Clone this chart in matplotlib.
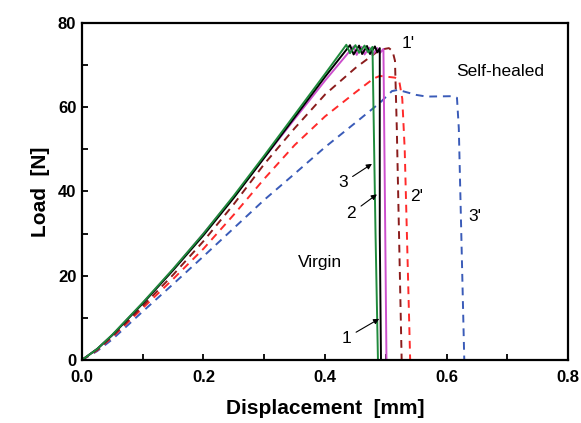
import numpy as np
import matplotlib
matplotlib.use("Agg")
import matplotlib.pyplot as plt

plt.rcParams['font.family'] = ['Liberation Sans', 'DejaVu Sans']

# virgin samples (solid lines), displacement [mm] / load [N]
x_v3 = [0, 0.025, 0.05, 0.10, 0.15, 0.20, 0.25, 0.30, 0.35, 0.40, 0.435, 0.441, 0.450,
        0.456, 0.465, 0.471, 0.478, 0.483, 0.487]
y_v3 = [0, 2.6, 6.0, 13.6, 21.6, 30.0, 39.0, 48.5, 58.2, 67.9, 74.8, 72.8, 74.7,
        72.9, 74.6, 73.0, 74.3, 30.0, 0]

x_v2 = [0, 0.025, 0.05, 0.10, 0.15, 0.20, 0.25, 0.30, 0.35, 0.40, 0.441, 0.447, 0.456,
        0.461, 0.469, 0.474, 0.482, 0.486, 0.490, 0.490, 0.492]
y_v2 = [0, 2.6, 5.9, 13.4, 21.3, 29.6, 38.5, 48.0, 57.6, 67.2, 74.7, 72.5, 74.6,
        72.6, 74.5, 72.6, 74.4, 73.0, 74.0, 30.0, 0]

x_v1 = [0, 0.025, 0.05, 0.10, 0.15, 0.20, 0.25, 0.30, 0.35, 0.40, 0.447, 0.452, 0.460,
        0.465, 0.473, 0.478, 0.486, 0.490, 0.496, 0.499, 0.501]
y_v1 = [0, 2.6, 5.9, 13.5, 21.5, 30.0, 38.8, 48.0, 57.2, 66.3, 74.4, 72.4, 74.3,
        72.5, 74.1, 72.4, 74.0, 72.8, 73.8, 30.0, 0]

# self-healed samples (dashed lines)
x_h1 = [0, 0.025, 0.05, 0.10, 0.15, 0.20, 0.25, 0.30, 0.35, 0.40, 0.45, 0.49, 0.505,
        0.511, 0.515, 0.518, 0.526]
y_h1 = [0, 2.4, 5.6, 12.8, 20.2, 28.2, 37.0, 46.5, 55.0, 63.0, 69.3, 73.6, 74.0,
        73.3, 71.0, 55.0, 0]

x_h2 = [0, 0.025, 0.05, 0.10, 0.15, 0.20, 0.25, 0.30, 0.35, 0.40, 0.45, 0.48, 0.49,
        0.515, 0.522, 0.527, 0.531, 0.540]
y_h2 = [0, 2.3, 5.4, 12.3, 19.2, 26.4, 34.5, 43.0, 51.0, 57.8, 63.5, 66.8, 67.4,
        67.0, 66.2, 62.0, 50.0, 0]

x_h3 = [0, 0.025, 0.05, 0.10, 0.15, 0.20, 0.25, 0.30, 0.35, 0.40, 0.45, 0.49, 0.51,
        0.52, 0.54, 0.55, 0.567, 0.61, 0.617, 0.620, 0.629]
y_h3 = [0, 2.1, 4.9, 11.5, 18.0, 24.6, 31.3, 38.0, 44.2, 50.5, 56.3, 61.0, 63.8,
        64.1, 63.3, 62.9, 62.5, 62.6, 62.2, 55.0, 0]

fig = plt.figure(figsize=(5.81, 4.23), dpi=100)
ax = fig.add_axes([0.141, 0.149, 0.837, 0.797])

ax.plot(x_h3, y_h3, '--', color='#3a5bb8', lw=1.4, dashes=(4, 3))
ax.plot(x_h2, y_h2, '--', color='#ff2a2a', lw=1.4, dashes=(4, 3))
ax.plot(x_h1, y_h1, '--', color='#8b1c1c', lw=1.4, dashes=(4, 3))
ax.plot(x_v1, y_v1, '-', color='#cc4fcc', lw=1.4)
ax.plot(x_v2, y_v2, '-', color='black', lw=1.4)
ax.plot(x_v3, y_v3, '-', color='#1f8a3c', lw=1.4)

ax.set_xlim(0, 0.8)
ax.set_ylim(0, 80)
ax.set_xticks(np.arange(0, 0.81, 0.2))
ax.set_xticks(np.arange(0.1, 0.8, 0.2), minor=True)
ax.set_yticks(np.arange(0, 81, 20))
ax.set_yticks(np.arange(10, 80, 20), minor=True)
ax.set_xticklabels(['0.0', '0.2', '0.4', '0.6', '0.8'])
ax.tick_params(which='both', direction='in', length=4.5, width=1.3,
               top=False, right=False, labelsize=12)
ax.tick_params(axis='x', pad=7)
ax.tick_params(axis='y', pad=4)
for lab in ax.get_xticklabels() + ax.get_yticklabels():
    lab.set_fontweight('bold')
for sp in ax.spines.values():
    sp.set_linewidth(1.6)

ax.set_xlabel('Displacement  [mm]', fontsize=15, fontweight='bold', labelpad=10)
ax.set_ylabel('Load  [N]', fontsize=15, fontweight='bold', labelpad=6)

fs = 12.5
ax.text(0.537, 75.2, "1'", fontsize=fs, ha='center', va='center')
ax.text(0.616, 68.5, 'Self-healed', fontsize=fs, ha='left', va='center')
ax.text(0.392, 23.1, 'Virgin', fontsize=fs, ha='center', va='center')
ax.text(0.551, 38.8, "2'", fontsize=fs, ha='center', va='center')
ax.text(0.647, 34.0, "3'", fontsize=fs, ha='center', va='center')

arrow = dict(arrowstyle='-|>', color='black', lw=0.8, mutation_scale=8)
ax.annotate('3', xy=(0.481, 46.9), xytext=(0.429, 42.0), fontsize=fs,
            ha='center', va='center', arrowprops=arrow)
ax.annotate('2', xy=(0.489, 39.7), xytext=(0.443, 34.8), fontsize=fs,
            ha='center', va='center', arrowprops=arrow)
ax.annotate('1', xy=(0.493, 10.1), xytext=(0.4345, 5.2), fontsize=fs,
            ha='center', va='center', arrowprops=arrow)

fig.savefig('out.png', dpi=100)
